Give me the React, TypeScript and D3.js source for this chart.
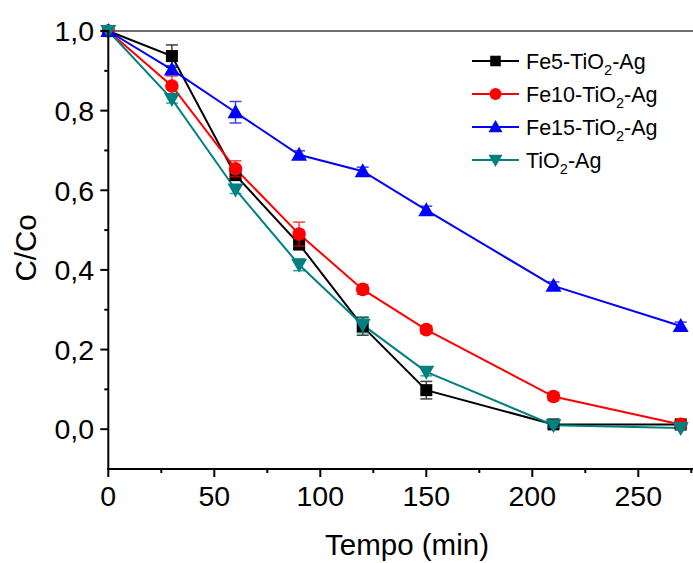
import React from "react";
import * as d3 from "d3";

const times = [0, 30, 60, 90, 120, 150, 210, 270];
const fe5 = [1.0, 0.937, 0.638, 0.465, 0.258, 0.098, 0.012, 0.012];
const fe5Err = [0, 0.028, 0.01, 0.015, 0.022, 0.022, 0.008, 0.008];
const fe10 = [1.0, 0.862, 0.654, 0.49, 0.351, 0.25, 0.082, 0.012];
const fe10Err = [0, 0.025, 0.02, 0.03, 0.012, 0.01, 0.01, 0.008];
const fe15 = [1.0, 0.903, 0.796, 0.689, 0.648, 0.55, 0.36, 0.259];
const fe15Err = [0, 0.01, 0.027, 0.01, 0.01, 0.01, 0.01, 0.01];
const tio2 = [1.0, 0.829, 0.602, 0.413, 0.262, 0.144, 0.01, 0.003];
const tio2Err = [0, 0.01, 0.01, 0.015, 0.02, 0.01, 0.005, 0.005];

const seriesNames = ["Fe5", "Fe10", "Fe15", ""];
const seriesColors = ["#000000", "#ff0000", "#0000ff", "#008080"];
const seriesShapes = ["square", "circle", "triangle", "triangleDown"];
const xTicks = [0, 50, 100, 150, 200, 250];
const xMinorTicks = [25, 75, 125, 175, 225, 275];
const yTicks = [0, 0.2, 0.4, 0.6, 0.8, 1.0];
const yMinorTicks = [0.1, 0.3, 0.5, 0.7, 0.9];

const FONT = "'Liberation Sans', Arial, sans-serif";

function Marker({ shape, x, y, color, s = 1 }: { shape: string; x: number; y: number; color: string; s?: number }) {
  if (shape === "square") return <rect x={x - 6 * s} y={y - 6 * s} width={12 * s} height={12 * s} fill={color} />;
  if (shape === "circle") return <circle cx={x} cy={y} r={6.8 * s} fill={color} />;
  if (shape === "triangle")
    return <path d={`M${x},${y - 8 * s}L${x + 8 * s},${y + 6 * s}L${x - 8 * s},${y + 6 * s}Z`} fill={color} />;
  return <path d={`M${x},${y + 8 * s}L${x + 8 * s},${y - 6 * s}L${x - 8 * s},${y - 6 * s}Z`} fill={color} />;
}

export default function App() {
  const W = 693, H = 563;
  const left = 108.3, top = 31, bottom = 469;
  const x = d3.scaleLinear().domain([0, 250]).range([left, 638.3]);
  const y = d3.scaleLinear().domain([-0.1, 1.0]).range([bottom, top]);
  const fmt = (v: number) => d3.format(".1f")(v).replace(".", ",");
  const data = [
    { vals: fe5, err: fe5Err },
    { vals: fe10, err: fe10Err },
    { vals: fe15, err: fe15Err },
    { vals: tio2, err: tio2Err },
  ];
  const line = d3
    .line<number>()
    .x((_, i) => x(times[i]))
    .y((d) => y(d));

  const legendY = [61, 94, 127, 160];

  return (
    <svg width={W} height={H} style={{ position: "absolute", left: 0, top: 0, background: "#fff" }} fontFamily={FONT}>
      <rect width={W} height={H} fill="#fff" />
      <line x1={left} x2={W} y1={top} y2={top} stroke="#6e6e6e" strokeWidth={2} />
      {data.map((s, si) => (
        <g key={si}>
          <path d={line(s.vals) || ""} fill="none" stroke={seriesColors[si]} strokeWidth={2} />
        </g>
      ))}
      {data.map((s, si) => (
        <g key={"m" + si}>
          {s.vals.map((v, i) => {
            const cx = x(times[i]);
            const e = s.err[i];
            if (e <= 0) return null;
            return (
              <g key={i} stroke={seriesColors[si]} strokeWidth={1.5} opacity={0.75}>
                <line x1={cx} x2={cx} y1={y(v + e)} y2={y(v - e)} />
                <line x1={cx - 6} x2={cx + 6} y1={y(v + e)} y2={y(v + e)} />
                <line x1={cx - 6} x2={cx + 6} y1={y(v - e)} y2={y(v - e)} />
              </g>
            );
          })}
          {s.vals.map((v, i) => (
            <Marker key={i} shape={seriesShapes[si]} x={x(times[i])} y={y(v)} color={seriesColors[si]} />
          ))}
        </g>
      ))}
      <line x1={left} x2={left} y1={top - 1} y2={bottom + 1} stroke="#000" strokeWidth={2} />
      <line x1={left - 1} x2={W} y1={bottom} y2={bottom} stroke="#000" strokeWidth={2} />
      {yTicks.map((t) => (
        <g key={t}>
          <line x1={left - 8} x2={left} y1={y(t)} y2={y(t)} stroke="#000" strokeWidth={2} />
          <text x={94} y={y(t)} dy="0.36em" textAnchor="end" fontSize={28.5} fill="#000">
            {fmt(t)}
          </text>
        </g>
      ))}
      {yMinorTicks.map((t) => (
        <line key={t} x1={left - 4} x2={left} y1={y(t)} y2={y(t)} stroke="#000" strokeWidth={2} />
      ))}
      {xTicks.map((t) => (
        <g key={t}>
          <line x1={x(t)} x2={x(t)} y1={bottom} y2={bottom + 8} stroke="#000" strokeWidth={2} />
          <text x={x(t)} y={506} textAnchor="middle" fontSize={28.5} fill="#000">
            {t}
          </text>
        </g>
      ))}
      {xMinorTicks.map((t) => (
        <line key={t} x1={x(t)} x2={x(t)} y1={bottom} y2={bottom + 4} stroke="#000" strokeWidth={2} />
      ))}
      <text x={407} y={555} textAnchor="middle" fontSize={29.5} fill="#000">
        Tempo (min)
      </text>
      <text transform="translate(36,248) rotate(-90)" textAnchor="middle" fontSize={29.5} fill="#000">
        C/Co
      </text>
      {seriesNames.map((n, i) => (
        <g key={i}>
          <line x1={472} x2={519} y1={legendY[i]} y2={legendY[i]} stroke={seriesColors[i]} strokeWidth={2} />
          <Marker shape={seriesShapes[i]} x={495.5} y={legendY[i]} color={seriesColors[i]} s={0.88} />
          <text x={526} y={legendY[i]} dy="0.36em" fontSize={21.5} fill="#000">
            {n ? n + "-" : ""}TiO
            <tspan dy={6} fontSize={14.5}>2</tspan>
            <tspan dy={-6}>-Ag</tspan>
          </text>
        </g>
      ))}
    </svg>
  );
}
